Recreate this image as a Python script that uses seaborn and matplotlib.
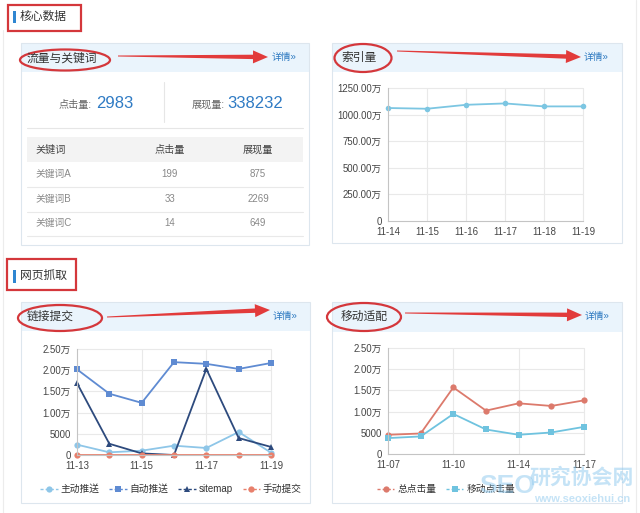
import numpy as np
import pandas as pd
import matplotlib
matplotlib.use("Agg")
import matplotlib.pyplot as plt
import seaborn as sns
from matplotlib.patches import Rectangle, Ellipse, Polygon

# ---------------- data ----------------
total_clicks = 2983
total_impr = 338232
keywords = ["关键词A", "关键词B", "关键词C"]
kw_clicks = [199, 33, 14]
kw_impr = [875, 2269, 649]

index_dates = ["11-14", "11-15", "11-16", "11-17", "11-18", "11-19"]
index_vals = [1062, 1055, 1092, 1105, 1077, 1077]          # 万
index_yticks = [0, 250, 500, 750, 1000, 1250]
index_ylabels = ["0", "250.00万", "500.00万", "750.00万", "1000.00万", "1250.00万"]

link_dates = ["11-13", "11-14", "11-15", "11-16", "11-17", "11-18", "11-19"]
push_active = [2440, 630, 1020, 2200, 1650, 5420, 550]
push_auto = [20200, 14450, 12300, 21900, 21500, 20300, 21700]
sitemap = [16950, 2650, 380, 0, 20300, 4000, 1900]
manual = [0, 0, 0, 0, 0, 0, 0]
link_series = ["主动推送", "自动推送", "sitemap", "手动提交"]

mob_dates = ["11-07", "11-09", "11-10", "11-12", "11-14", "11-16", "11-17"]
mob_total = [4530, 4840, 15700, 10230, 11950, 11330, 12650]
mob_mobile = [3750, 4140, 9450, 5780, 4530, 5080, 6400]
mob_series = ["总点击量", "移动点击量"]

wan_yticks = [0, 5000, 10000, 15000, 20000, 25000]
wan_ylabels = ["0", "5000", "1.00万", "1.50万", "2.00万", "2.50万"]

# ---------------- style ----------------
sns.set_theme(style="white")
plt.rcParams["font.family"] = ["Liberation Sans", "Noto Sans CJK SC", "DejaVu Sans"]
plt.rcParams["axes.unicode_minus"] = False

W, H = 640, 513
fig = plt.figure(figsize=(6.4, 5.13), dpi=100)
fig.patch.set_facecolor("white")
bg = fig.add_axes([0, 0, 1, 1])
bg.set_xlim(0, W)
bg.set_ylim(H, 0)
bg.axis("off")

RED = "#d4373b"
LINK = "#2b78c0"
TXT = "#333333"

# faint page edges
bg.plot([3, 3], [30, 513], color="#ececec", lw=0.8)
bg.plot([636, 636], [0, 513], color="#ececec", lw=0.8)


def section(x0, y0, x1, y1, bar_y0, bar_y1, text, ty):
    bg.add_patch(Rectangle((x0, y0), x1 - x0, y1 - y0, fc="none", ec=RED, lw=1.6))
    bg.add_patch(Rectangle((12.5, bar_y0), 3, bar_y1 - bar_y0, fc="#2f86d1", ec="none"))
    bg.text(20, ty, text, fontsize=8.5, color=TXT, va="center", ha="left")


def panel(x0, y0, x1, y1, hb):
    bg.add_patch(Rectangle((x0, y0), x1 - x0, y1 - y0, fc="white", ec="none"))
    bg.add_patch(Rectangle((x0, y0), x1 - x0, hb - y0, fc="#eaf4fc", ec="none"))
    bg.add_patch(Rectangle((x0, y0), x1 - x0, y1 - y0, fc="none", ec="#dde6ee", lw=0.8))


def arrow(x0, y0, x1, y1):
    p0 = np.array([x0, y0], float)
    p1 = np.array([x1, y1], float)
    d = p1 - p0
    L = np.hypot(*d)
    u = d / L
    n = np.array([-u[1], u[0]])
    base = p1 - u * 15
    pts = [p0 + n * 0.5, base + n * 2.2, base + n * 6.5, p1,
           base - n * 6.5, base - n * 2.2, p0 - n * 0.5]
    bg.add_patch(Polygon(pts, closed=True, fc="#e23b3b", ec="none"))


def title(cx, cy, w, h, tx, ty, text):
    bg.text(tx, ty, text, fontsize=8.5, color=TXT, va="center", ha="left")
    bg.add_patch(Ellipse((cx, cy), w, h, fc="none", ec=RED, lw=1.6))


def more(x, y):
    bg.text(x, y, "详情»", fontsize=7, color=LINK, va="center", ha="left")


# ---------------- section 1 ----------------
section(8, 5, 81, 31, 11, 23, "核心数据", 17)

panel(21, 43, 309, 245, 72)
title(65, 60, 90, 21, 27, 59, "流量与关键词")
arrow(118, 56, 268, 57)
more(272, 57)

bg.text(92, 105, "点击量:", fontsize=7.3, color="#666666", ha="right", va="center")
bg.text(96, 104, f"{total_clicks}", fontsize=12, color="#2f7bc4", ha="left", va="center")
bg.text(225, 105, "展现量:", fontsize=7.3, color="#666666", ha="right", va="center")
bg.text(227, 104, f"{total_impr}", fontsize=12, color="#2f7bc4", ha="left", va="center")
bg.plot([164, 164], [82, 122], color="#e6e6e6", lw=0.8)
bg.plot([27, 303], [128, 128], color="#e6e6e6", lw=0.8)

bg.add_patch(Rectangle((27, 137), 276, 25, fc="#f3f3f3", ec="none"))
bg.text(35, 150, "关键词", fontsize=7.3, color="#444444", ha="left", va="center")
bg.text(170, 150, "点击量", fontsize=7.3, color="#444444", ha="center", va="center")
bg.text(258, 150, "展现量", fontsize=7.3, color="#444444", ha="center", va="center")
row_y = [174, 199, 223]
for i, (k, c, m) in enumerate(zip(keywords, kw_clicks, kw_impr)):
    y = row_y[i]
    bg.text(35, y, k, fontsize=7, color="#888888", ha="left", va="center")
    bg.text(170, y, str(c), fontsize=7, color="#888888", ha="center", va="center")
    bg.text(258, y, str(m), fontsize=7, color="#888888", ha="center", va="center")
    bg.plot([27, 303], [y + 12.5, y + 12.5], color="#e9e9e9", lw=0.8)

panel(332, 43, 622, 243, 72)
title(363, 58, 57, 28, 341, 58, "索引量")
arrow(397, 51, 581, 57)
more(584, 57)

# ---------------- section 2 ----------------
section(7, 259, 76, 290, 270, 283, "网页抓取", 276)

panel(21, 302, 310, 503, 331)
title(60, 318, 84, 26, 27, 317, "链接提交")
arrow(107, 317, 270, 310)
more(273, 316)

panel(332, 302, 622, 503, 332)
title(364, 317, 74, 28, 341, 317, "移动适配")
arrow(405, 313, 582, 315)
more(585, 316)


# ---------------- charts ----------------
def px_axes(l, t, r, b):
    return fig.add_axes([l / W, 1 - b / H, (r - l) / W, (b - t) / H])


def style_axes(ax, xticks, xlabels, yticks, ylabels, xgrid, xmax):
    ax.set_facecolor("none")
    ax.set_xlim(0, xmax)
    ax.set_ylim(yticks[0], yticks[-1])
    ax.set_yticks(yticks)
    ax.set_yticklabels(ylabels)
    ax.set_xticks(xticks)
    ax.set_xticklabels(xlabels)
    ax.set_xlabel("")
    ax.set_ylabel("")
    for s in ["top", "right"]:
        ax.spines[s].set_visible(False)
    for s in ["left", "bottom"]:
        ax.spines[s].set_color("#c4c4c4")
        ax.spines[s].set_linewidth(0.8)
    ax.tick_params(axis="both", direction="out", length=3, width=0.8,
                   color="#999999", labelsize=6.9, labelcolor="#444444", pad=1.5)
    for y in yticks[1:]:
        ax.axhline(y, color="#e9e9e9", lw=0.8, zorder=0)
    for x in xgrid:
        if x > 0:
            ax.axvline(x, color="#e9e9e9", lw=0.8, zorder=0)
    for ln in ax.lines:
        ln.set_clip_on(False)


# chart: 索引量
ax2 = px_axes(388, 88, 583, 221)
df_idx = pd.DataFrame({"pos": np.arange(len(index_dates)), "val": index_vals})
sns.lineplot(data=df_idx, x="pos", y="val", ax=ax2, color="#7cc6e2", lw=1.3,
             marker="o", markersize=4, markeredgewidth=0)
pos2 = list(range(len(index_dates)))
style_axes(ax2, pos2, index_dates, index_yticks, index_ylabels, pos2, len(index_dates) - 1)

# chart: 链接提交
ax3 = px_axes(77, 349, 271, 455)
pos3 = np.arange(len(link_dates))
df_link = pd.concat([
    pd.DataFrame({"pos": pos3, "val": v, "series": s})
    for s, v in zip(link_series, [push_active, push_auto, sitemap, manual])
])
pal3 = {"主动推送": "#8ec6e8", "自动推送": "#5f8bd2", "sitemap": "#2d4a7d", "手动提交": "#e8806c"}
mk3 = {"主动推送": "o", "自动推送": "s", "sitemap": "^", "手动提交": "o"}
sns.lineplot(data=df_link, x="pos", y="val", hue="series", style="series",
             hue_order=link_series, style_order=link_series,
             palette=pal3, markers=mk3, dashes=False, lw=1.3, markersize=4.5,
             markeredgewidth=0, ax=ax3)
h3, l3 = ax3.get_legend_handles_labels()
ax3.get_legend().remove()
xt3 = list(pos3[::2])
style_axes(ax3, xt3, link_dates[::2], wan_yticks, wan_ylabels, xt3, len(link_dates) - 1)
leg3 = ax3.legend(h3, l3, loc="center", bbox_to_anchor=(171 / W, 1 - 489 / H),
                  bbox_transform=fig.transFigure, ncol=4, frameon=False,
                  fontsize=7, handlelength=1.8, handletextpad=0.3, columnspacing=1.0)
for t in leg3.get_texts():
    t.set_color("#333333")
for ln in leg3.get_lines():
    ln.set_linestyle((0, (2.2, 1.5)))
    ln.set_linewidth(1.0)

# chart: 移动适配
ax4 = px_axes(388, 348, 584, 454)
pos4 = np.arange(len(mob_dates))
df_mob = pd.concat([
    pd.DataFrame({"pos": pos4, "val": v, "series": s})
    for s, v in zip(mob_series, [mob_total, mob_mobile])
])
pal4 = {"总点击量": "#dc7a6c", "移动点击量": "#6fc3df"}
mk4 = {"总点击量": "o", "移动点击量": "s"}
sns.lineplot(data=df_mob, x="pos", y="val", hue="series", style="series",
             hue_order=mob_series, style_order=mob_series,
             palette=pal4, markers=mk4, dashes=False, lw=1.3, markersize=4.5,
             markeredgewidth=0, ax=ax4)
h4, l4 = ax4.get_legend_handles_labels()
ax4.get_legend().remove()
xt4 = list(pos4[::2])
style_axes(ax4, xt4, mob_dates[::2], wan_yticks, wan_ylabels, xt4, len(mob_dates) - 1)
leg4 = ax4.legend(h4, l4, loc="center", bbox_to_anchor=(446 / W, 1 - 489 / H),
                  bbox_transform=fig.transFigure, ncol=2, frameon=False,
                  fontsize=7, handlelength=1.8, handletextpad=0.3, columnspacing=1.0)
for t in leg4.get_texts():
    t.set_color("#333333")
for ln in leg4.get_lines():
    ln.set_linestyle((0, (2.2, 1.5)))
    ln.set_linewidth(1.0)

# watermark
fig.text(507 / W, 1 - 486 / H, "SEO", fontsize=19, fontweight="bold", color="#8cc8ee",
         alpha=0.5, ha="center", va="center", zorder=20)
fig.text(582 / W, 1 - 477 / H, "研究协会网", fontsize=15, fontweight="bold", color="#8cc8ee",
         alpha=0.5, ha="center", va="center", zorder=20)
fig.text(582 / W, 1 - 499 / H, "www.seoxiehui.cn", fontsize=8, fontweight="bold", color="#8cc8ee",
         alpha=0.5, ha="center", va="center", zorder=20)

fig.savefig("out.png", dpi=100)
